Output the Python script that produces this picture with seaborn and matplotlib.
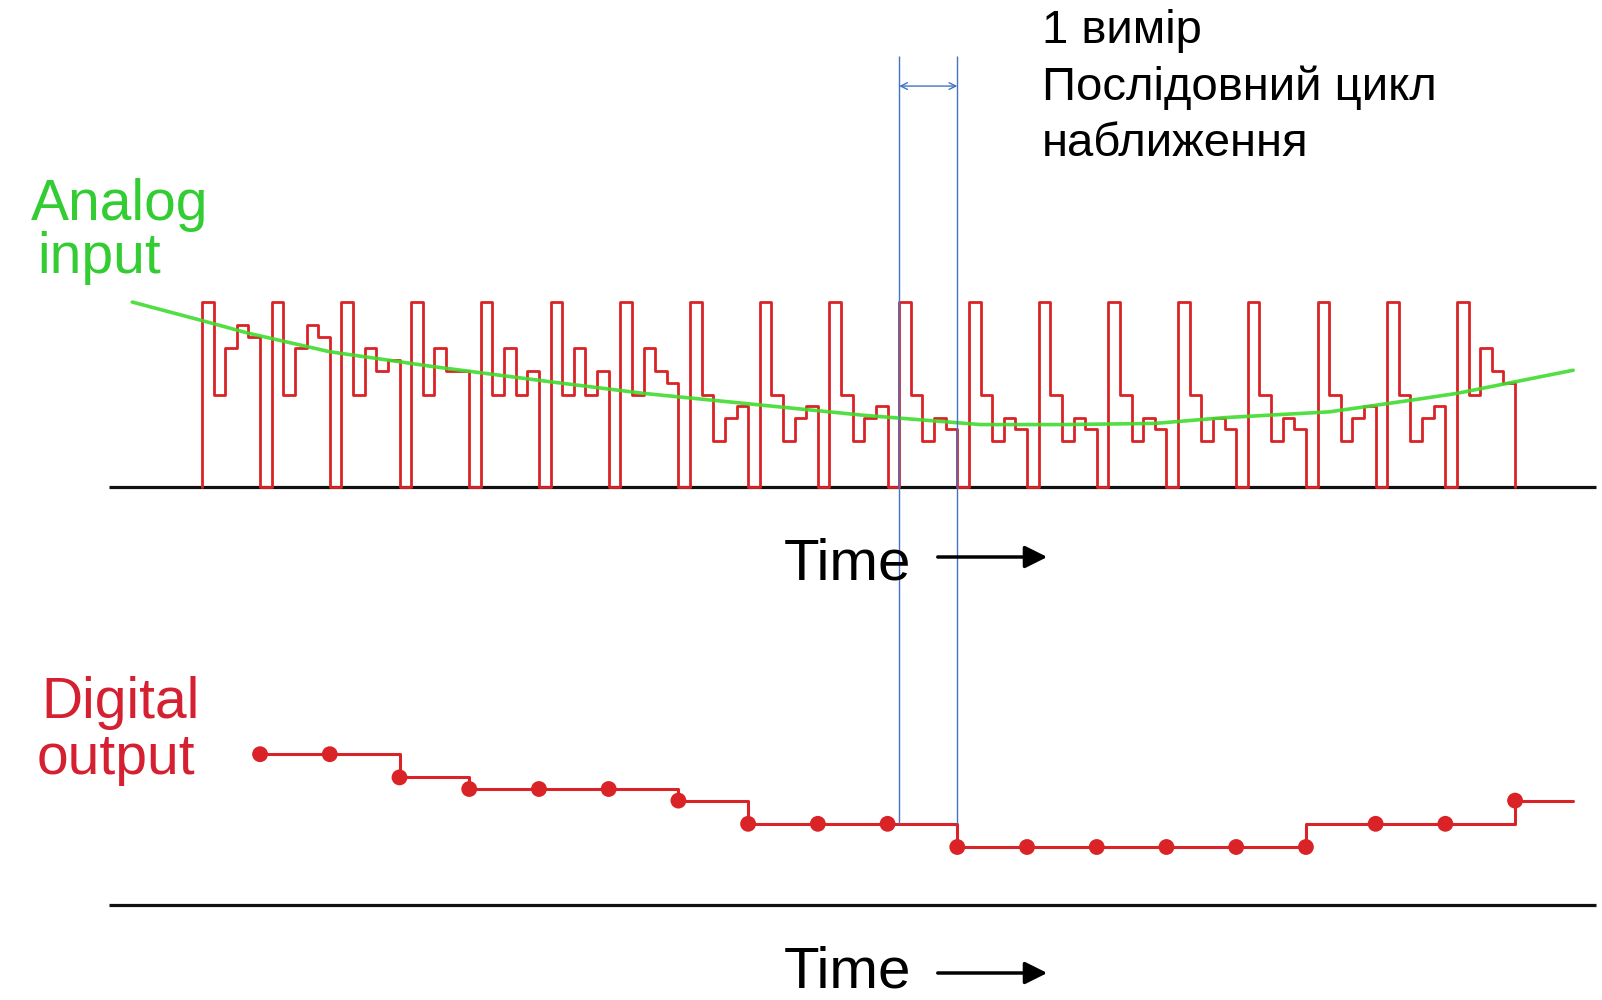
import matplotlib
matplotlib.use('Agg')
import matplotlib.pyplot as plt
import seaborn as sns
import pandas as pd

# successive approximation: every cycle is 6 clock slots
# slot 0 = full scale, slots 1-4 = trial levels, slot 5 = back to zero
slots_per_cycle = 6
full_scale = 16
trial_levels = [
    [8, 12, 14, 13],
    [8, 12, 14, 13],
    [8, 12, 10, 11],
    [8, 12, 10, 10],
    [8, 12, 8, 10],
    [8, 12, 8, 10],
    [8, 12, 10, 9],
    [8, 4, 6, 7],
    [8, 4, 6, 7],
    [8, 4, 6, 7],
    [8, 4, 6, 5],
    [8, 4, 6, 5],
    [8, 4, 6, 5],
    [8, 4, 6, 5],
    [8, 4, 6, 5],
    [8, 4, 6, 5],
    [8, 4, 6, 7],
    [8, 4, 6, 7],
    [8, 12, 10, 9],
]

# digital result after each cycle
digital_output = [13, 13, 11, 10, 10, 10, 9, 7, 7, 7, 5, 5, 5, 5, 5, 5, 7, 7, 9]
digital_line_end = 118
early_step = 15  # the drawn output line already rises at this sample

# analog input (time in clock slots, level in the same units)
analog_t = [-6, 0, 4, 11, 20, 30, 38, 48, 57, 67, 74, 82, 88, 97, 104, 108, 113, 118]
analog_v = [16.0, 14.4, 13.3, 11.7, 10.4, 9.1, 8.1, 7.1, 6.2, 5.4, 5.4, 5.5, 6.0, 6.5, 7.5, 8.1, 9.1, 10.1]

marked_cycle = 10
baseline_span = (-8, 120)

# build the stepped comparator waveform
wave_t, wave_v = [], []
for k, lev in enumerate(trial_levels):
    t0 = k * slots_per_cycle
    wave_t += [t0, t0, t0 + 1, t0 + 2, t0 + 3, t0 + 4, t0 + 5]
    wave_v += [0, full_scale] + lev + [0]
wave = pd.DataFrame({'t': wave_t, 'v': wave_v})

dig_t = [k * slots_per_cycle + slots_per_cycle - 1 for k in range(len(digital_output))]
dig = pd.DataFrame({'t': dig_t, 'v': digital_output})
line_t = dig_t[:early_step + 1] + [dig_t[early_step]] + dig_t[early_step + 1:] + [digital_line_end]
line_v = (digital_output[:early_step + 1] + [digital_output[early_step + 1]]
          + digital_output[early_step + 1:] + [digital_output[-1]])
dig_line = pd.DataFrame({'t': line_t, 'v': line_v})
analog = pd.DataFrame({'t': analog_t, 'v': analog_v})

sns.set_style('white')
plt.rcParams['font.family'] = ['Liberation Sans', 'DejaVu Sans']

fig = plt.figure(figsize=(16.02, 10), dpi=100)
ax_top = fig.add_axes([0, 0, 1, 1])
ax_bot = fig.add_axes([0, 0, 1, 1])
for ax in (ax_top, ax_bot):
    ax.set_xlim(-17.38, 120.48)
    ax.axis('off')
    ax.patch.set_alpha(0)
ax_top.set_ylim(-44.38, 42.13)
ax_bot.set_ylim(-8.19, 78.02)

red = '#d92326'
green = '#3fdc2f'
blue = '#4472c4'

# top panel
ax_top.hlines(0, *baseline_span, color='#111111', lw=2.3, zorder=1)
sns.lineplot(data=wave, x='t', y='v', estimator=None, sort=False, drawstyle='steps-post',
             color=red, lw=2.0, ax=ax_top, zorder=2)
sns.lineplot(data=analog, x='t', y='v', estimator=None, sort=False,
             color=green, lw=2.6, alpha=0.9, ax=ax_top, zorder=3)

# bottom panel
ax_bot.hlines(0, *baseline_span, color='#111111', lw=2.3, zorder=1)
sns.lineplot(data=dig_line, x='t', y='v', estimator=None, sort=False, drawstyle='steps-post',
             color=red, lw=2.2, ax=ax_bot, zorder=2)
sns.scatterplot(data=dig, x='t', y='v', color=red, s=130, edgecolor='none', ax=ax_bot, zorder=3)

# one conversion marked with blue lines
t_a = marked_cycle * slots_per_cycle
t_b = t_a + slots_per_cycle - 1
ax_bot.vlines([t_a, t_b], digital_output[marked_cycle - 1], 73.2, color=blue, lw=1.0, zorder=4)
ax_bot.annotate('', xy=(t_a, 70.6), xytext=(t_b, 70.6),
                arrowprops=dict(arrowstyle='<->', color=blue, lw=1.0, shrinkA=0, shrinkB=0,
                                mutation_scale=12))

W, H = 1602, 1000
fig.text(1042 / W, 1 - 43 / H, '1 вимір', fontsize=34, color='black', va='baseline')
fig.text(1042 / W, 1 - 100 / H, 'Послідовний цикл', fontsize=34, color='black', va='baseline')
fig.text(1042 / W, 1 - 156 / H, 'наближення', fontsize=34, color='black', va='baseline')

fig.text(31 / W, 1 - 220 / H, 'Analog', fontsize=41, color='#33cc33', va='baseline')
fig.text(37 / W, 1 - 273 / H, 'input', fontsize=41, color='#33cc33', va='baseline')
fig.text(41 / W, 1 - 718 / H, 'Digital', fontsize=41, color='#d42030', va='baseline')
fig.text(37 / W, 1 - 774 / H, 'output', fontsize=41, color='#d42030', va='baseline')

for ty, ay in ((580, 557), (988, 973)):
    fig.text(784 / W, 1 - ty / H, 'Time', fontsize=42, color='black', va='baseline')
    fig.patches.append(matplotlib.patches.FancyArrowPatch(
        (935 / W, 1 - ay / H), (1050 / W, 1 - ay / H),
        transform=fig.transFigure, arrowstyle='-|>', mutation_scale=34, lw=2.5, color='black'))

fig.savefig('out.png', dpi=100)
